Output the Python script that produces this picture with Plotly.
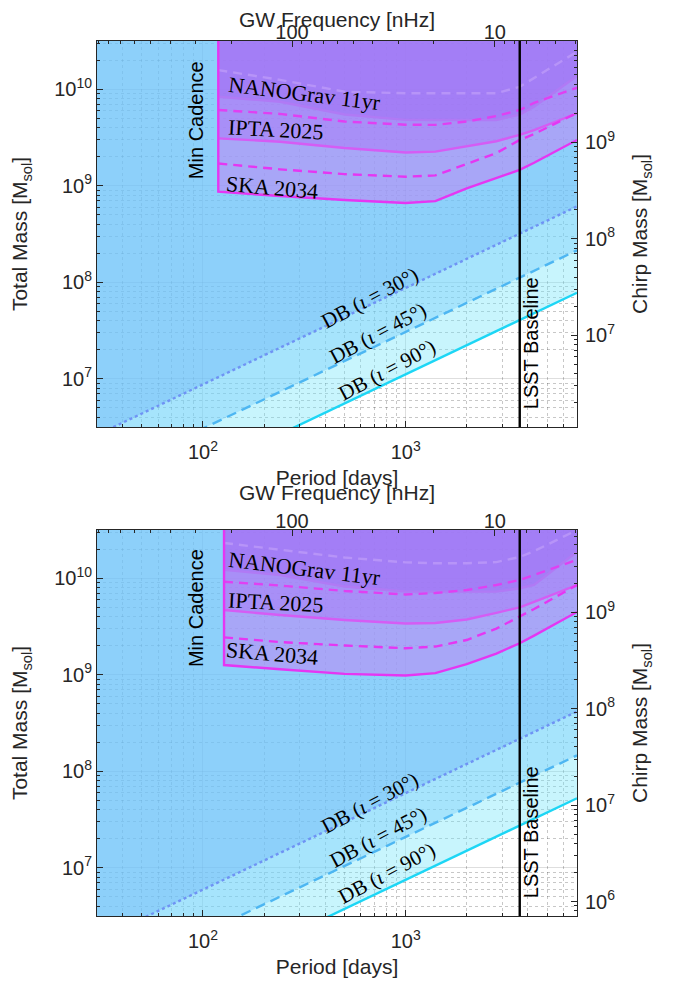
import math
import plotly.graph_objects as go

# ------------------------------------------------------------------ data
# periods [days] at which PTA sensitivity curves were read (first value = min cadence)
period_top = [119, 240, 500, 1000, 1400, 2000, 2800, 3650, 4300, 7000]
period_bot = [127, 240, 500, 1000, 1400, 2000, 2800, 3650, 4300, 7000]

# total mass [Msol] – top panel
ska_solid_top = [8.67e8, 7.83e8, 7.11e8, 6.62e8, 6.92e8, 9.38e8, 1.20e9, 1.46e9, 1.73e9, 2.98e9]
ska_dash_top = [1.70e9, 1.48e9, 1.32e9, 1.24e9, 1.28e9, 1.68e9, 2.18e9, 2.98e9, 3.44e9, 5.68e9]
ipta_solid_top = [3.10e9, 2.86e9, 2.46e9, 2.21e9, 2.26e9, 2.55e9, 2.89e9, 3.36e9, 3.78e9, 5.64e9]
ipta_dash_top = [6.10e9, 5.55e9, 4.63e9, 4.29e9, 4.27e9, 4.63e9, 5.28e9, 6.10e9, 7.21e9, 1.04e10]
nano_solid_top = [8.37e9, 7.43e9, 5.47e9, 4.82e9, 4.80e9, 4.80e9, 4.80e9, 5.46e9, 6.59e9, 1.37e10]
nano_dash_top = [1.58e10, 1.25e10, 9.44e9, 9.08e9, 9.08e9, 9.08e9, 9.08e9, 1.06e10, 1.31e10, 2.45e10]

# total mass [Msol] – bottom panel
ska_solid_bot = [1.26e9, 1.14e9, 1.02e9, 9.82e8, 1.04e9, 1.29e9, 1.66e9, 2.12e9, 2.54e9, 4.47e9]
ska_dash_bot = [2.44e9, 2.18e9, 2.01e9, 1.88e9, 1.96e9, 2.29e9, 3.01e9, 4.00e9, 4.80e9, 8.51e9]
ipta_solid_bot = [4.69e9, 4.16e9, 3.69e9, 3.40e9, 3.44e9, 3.74e9, 4.37e9, 5.00e9, 5.68e9, 8.51e9]
ipta_dash_bot = [9.20e9, 8.41e9, 7.38e9, 6.79e9, 7.03e9, 7.55e9, 8.51e9, 9.59e9, 1.08e10, 1.55e10]
nano_solid_bot = [1.22e10, 1.08e10, 8.20e9, 7.29e9, 7.26e9, 7.26e9, 7.26e9, 7.87e9, 8.51e9, 1.88e10]
nano_dash_bot = [2.32e10, 1.96e10, 1.64e10, 1.46e10, 1.43e10, 1.43e10, 1.47e10, 1.66e10, 1.91e10, 3.16e10]

# Doppler boosting detectability lines (endpoints, period [days] -> total mass)
db_period = [30, 7000]
db30_top = [2.62e6, 6.11e8]
db45_top = [9.16e5, 2.14e8]
db90_top = [3.33e5, 7.78e7]
db30_bot = [1.78e6, 4.16e8]
db45_bot = [6.27e5, 1.46e8]
db90_bot = [2.25e5, 5.25e7]

lsst_baseline_days = 3652.5
mass_ratio_top = 0.3
mass_ratio_bot = 0.1
gw_freq_ticks = [100, 10]          # nHz
gw_freq_minor = [4, 5, 6, 7, 8, 9, 20, 30, 40, 50, 60, 70, 80, 90, 200, 300, 400, 500, 600, 700, 800, 900]
freq_period_const = 27500.0        # nHz * days

# ------------------------------------------------------------------ styling
AX = "#262626"
FONT = "Liberation Sans, Arial, sans-serif"
SERIF = "Liberation Serif, Times New Roman, serif"
XR = [math.log10(30), math.log10(7000)]
YR = [6.5, 10.5]
CEIL = 1e13
W, H, OFF = 682, 984, 8   # page body margin offsets the figure by OFF px


def px_x(v):
    return (v - OFF) / W


def px_y(v):
    return 1 - (v - OFF) / H


XDOM = [px_x(97), px_x(577)]
YDOM_TOP = [px_y(427), px_y(41)]
YDOM_BOT = [px_y(916), px_y(530)]

DB_FILL = ["rgba(118,230,250,0.4)", "rgba(115,202,250,0.4)", "rgba(104,178,247,0.4)"]
PTA_FILL = ["rgba(201,115,243,0.45)", "rgba(169,116,247,0.45)", "rgba(158,106,245,0.45)"]
C_SKA = "#e536f2"
C_IPTA_S = "#d55cf4"
C_IPTA_D = "#e040f2"
C_NANO_S = "#b07af5"
C_NANO_D = "#b794f8"
GRID = "rgba(0,0,0,0.13)"
MGRID = "rgba(0,0,0,0.22)"
TICK_SZ = 20
TITLE_SZ = 21

x_minor = [v * 10 ** e for e in (1, 2, 3) for v in range(2, 10) if 30 <= v * 10 ** e <= 7000]
y_minor = [v * 10 ** e for e in range(5, 11) for v in range(2, 10)]

fig = go.Figure()


def chirp_factor(q):
    eta = q / (1 + q) ** 2
    return eta ** 0.6


def add_panel(xa, ya, xf, yc, P, curves, db, mincad_label_y, labels, q):
    ska_s, ska_d, ipta_s, ipta_d, nano_s, nano_d = curves
    d30, d45, d90 = db
    for line, col in zip((d90, d45, d30), DB_FILL):
        fig.add_trace(go.Scatter(
            x=db_period + db_period[::-1], y=line + [CEIL, CEIL], xaxis=xa, yaxis=ya,
            fill="toself", fillcolor=col, mode="none", hoverinfo="skip"))
    fig.add_trace(go.Scatter(x=db_period, y=d30, xaxis=xa, yaxis=ya, mode="lines",
                             line=dict(color="#6f93f4", width=2.4, dash="dot"), hoverinfo="skip"))
    fig.add_trace(go.Scatter(x=db_period, y=d45, xaxis=xa, yaxis=ya, mode="lines",
                             line=dict(color="#4db6f2", width=2.4, dash="10px,6px"), hoverinfo="skip"))
    fig.add_trace(go.Scatter(x=db_period, y=d90, xaxis=xa, yaxis=ya, mode="lines",
                             line=dict(color="#1dd6f5", width=2.4), hoverinfo="skip"))
    for curve, col in zip((ska_s, ipta_s, nano_s), PTA_FILL):
        fig.add_trace(go.Scatter(
            x=P + [P[-1], P[0]], y=curve + [CEIL, CEIL], xaxis=xa, yaxis=ya,
            fill="toself", fillcolor=col, mode="none", hoverinfo="skip"))
    dash = "9px,6px"
    fig.add_trace(go.Scatter(x=P, y=nano_d, xaxis=xa, yaxis=ya, mode="lines",
                             line=dict(color=C_NANO_D, width=2.4, dash=dash), hoverinfo="skip"))
    fig.add_trace(go.Scatter(x=P, y=nano_s, xaxis=xa, yaxis=ya, mode="lines",
                             line=dict(color=C_NANO_S, width=2.4), hoverinfo="skip"))
    fig.add_trace(go.Scatter(x=P, y=ipta_d, xaxis=xa, yaxis=ya, mode="lines",
                             line=dict(color=C_IPTA_D, width=2.4, dash=dash), hoverinfo="skip"))
    fig.add_trace(go.Scatter(x=P, y=ipta_s, xaxis=xa, yaxis=ya, mode="lines",
                             line=dict(color=C_IPTA_S, width=2.4), hoverinfo="skip"))
    fig.add_trace(go.Scatter(x=P, y=ska_d, xaxis=xa, yaxis=ya, mode="lines",
                             line=dict(color=C_SKA, width=2.4, dash=dash), hoverinfo="skip"))
    fig.add_trace(go.Scatter(x=[P[0]] + P, y=[CEIL] + ska_s, xaxis=xa, yaxis=ya, mode="lines",
                             line=dict(color=C_SKA, width=2.4), hoverinfo="skip"))
    cf = chirp_factor(q)
    fig.add_trace(go.Scatter(x=db_period, y=[v * cf for v in d30], xaxis=xf, yaxis=yc,
                             mode="lines", line=dict(width=0), opacity=0, hoverinfo="skip"))
    fig.add_shape(type="line", xref=xa, yref=f"{ya} domain", x0=lsst_baseline_days,
                  x1=lsst_baseline_days, y0=0, y1=1, line=dict(color="black", width=2.4), layer="above")
    (nano_y, ipta_y, ska_y, d30y, d45y, d90y) = labels
    ann = [
        ("Min Cadence", 1.966, mincad_label_y, -90, FONT, 20),
        ("LSST Baseline", 3.619, 7.37, -90, FONT, 20),
        ("NANOGrav 11yr", 2.499, nano_y, 7, SERIF, 22),
        ("IPTA 2025", 2.360, ipta_y, 3, SERIF, 22),
        ("SKA 2034", 2.341, ska_y, 5, SERIF, 22),
        ("DB (<i>ι</i> = 30°)", 2.823, d30y, -28, SERIF, 21),
        ("DB (<i>ι</i> = 45°)", 2.865, d45y, -28, SERIF, 21),
        ("DB (<i>ι</i> = 90°)", 2.908, d90y, -28, SERIF, 21),
    ]
    for txt, x, y, ang, fam, sz in ann:
        fig.add_annotation(text=txt, x=x, y=y, xref=xa, yref=ya, showarrow=False,
                           textangle=ang, font=dict(family=fam, size=sz, color="black"))


add_panel("x", "y", "x2", "y2", period_top,
          (ska_solid_top, ska_dash_top, ipta_solid_top, ipta_dash_top, nano_solid_top, nano_dash_top),
          (db30_top, db45_top, db90_top), 9.681,
          (9.951, 9.588, 8.987, 7.834, 7.471, 7.091), mass_ratio_top)
add_panel("x3", "y3", "x4", "y4", period_bot,
          (ska_solid_bot, ska_dash_bot, ipta_solid_bot, ipta_dash_bot, nano_solid_bot, nano_dash_bot),
          (db30_bot, db45_bot, db90_bot), 9.692,
          (10.096, 9.744, 9.225, 7.668, 7.322, 6.942), mass_ratio_bot)


def sup(e):
    return f"10<sup>{e}</sup>"


def period_axis(anchor):
    return dict(type="log", range=XR, domain=XDOM, anchor=anchor, showline=True, linecolor=AX,
                linewidth=1, ticks="inside", ticklen=6, tickcolor=AX, automargin=False,
                tickvals=[100, 1000], ticktext=[sup(2), sup(3)], ticklabelstandoff=7,
                tickfont=dict(family=FONT, size=TICK_SZ, color=AX), showgrid=True, gridcolor=GRID,
                zeroline=False,
                minor=dict(tickvals=x_minor, ticks="inside", ticklen=3, tickcolor=AX,
                           showgrid=True, gridcolor=MGRID, griddash="dot"),
                title=dict(text="Period [days]", font=dict(family=FONT, size=TITLE_SZ, color=AX),
                           standoff=8))


def freq_axis(over, anchor):
    return dict(type="log", range=XR, overlaying=over, side="top", anchor=anchor, showline=True,
                linecolor=AX, linewidth=1, ticks="inside", ticklen=6, tickcolor=AX, automargin=False,
                tickvals=[freq_period_const / f for f in gw_freq_ticks],
                ticktext=[str(f) for f in gw_freq_ticks], ticklabelstandoff=-7,
                tickfont=dict(family=FONT, size=TICK_SZ, color=AX), showgrid=False, zeroline=False,
                minor=dict(tickvals=[freq_period_const / f for f in gw_freq_minor
                                     if 30 <= freq_period_const / f <= 7000],
                           ticks="inside", ticklen=3, tickcolor=AX, showgrid=False),
                title=dict(text="GW Frequency [nHz]", font=dict(family=FONT, size=TITLE_SZ, color=AX),
                           standoff=3))


def mass_axis(anchor, dom):
    return dict(type="log", range=YR, domain=dom, anchor=anchor, showline=True, linecolor=AX,
                linewidth=1, ticks="inside", ticklen=6, tickcolor=AX, automargin=False,
                tickvals=[1e7, 1e8, 1e9, 1e10], ticktext=[sup(7), sup(8), sup(9), sup(10)],
                tickfont=dict(family=FONT, size=TICK_SZ, color=AX), showgrid=True, gridcolor=GRID,
                zeroline=False,
                minor=dict(tickvals=y_minor, ticks="inside", ticklen=3, tickcolor=AX,
                           showgrid=True, gridcolor=MGRID, griddash="dot"),
                title=dict(text="Total Mass [M<sub>sol</sub>]",
                           font=dict(family=FONT, size=TITLE_SZ, color=AX), standoff=20))


def chirp_axis(over, anchor, q, ticks):
    off = math.log10(chirp_factor(q))
    return dict(type="log", range=[YR[0] + off, YR[1] + off], overlaying=over, side="right",
                anchor=anchor, showline=True, linecolor=AX, linewidth=1, ticks="inside", ticklen=6,
                tickcolor=AX, automargin=False, ticklabelstandoff=3,
                tickvals=[10 ** e for e in ticks], ticktext=[sup(e) for e in ticks],
                tickfont=dict(family=FONT, size=TICK_SZ, color=AX), showgrid=False, zeroline=False,
                minor=dict(tickvals=y_minor, ticks="inside", ticklen=3, tickcolor=AX, showgrid=False),
                title=dict(text="Chirp Mass [M<sub>sol</sub>]",
                           font=dict(family=FONT, size=TITLE_SZ, color=AX), standoff=18))


fig.update_layout(
    width=W, height=H, margin=dict(l=0, r=0, t=0, b=0),
    paper_bgcolor="white", plot_bgcolor="white", showlegend=False,
    font=dict(family=FONT, color=AX),
    xaxis=period_axis("y"), yaxis=mass_axis("x", YDOM_TOP),
    xaxis2=freq_axis("x", "y"), yaxis2=chirp_axis("y", "x", mass_ratio_top, [7, 8, 9]),
    xaxis3=period_axis("y3"), yaxis3=mass_axis("x3", YDOM_BOT),
    xaxis4=freq_axis("x3", "y3"), yaxis4=chirp_axis("y3", "x3", mass_ratio_bot, [6, 7, 8, 9]),
)

fig.write_html("out.html")
